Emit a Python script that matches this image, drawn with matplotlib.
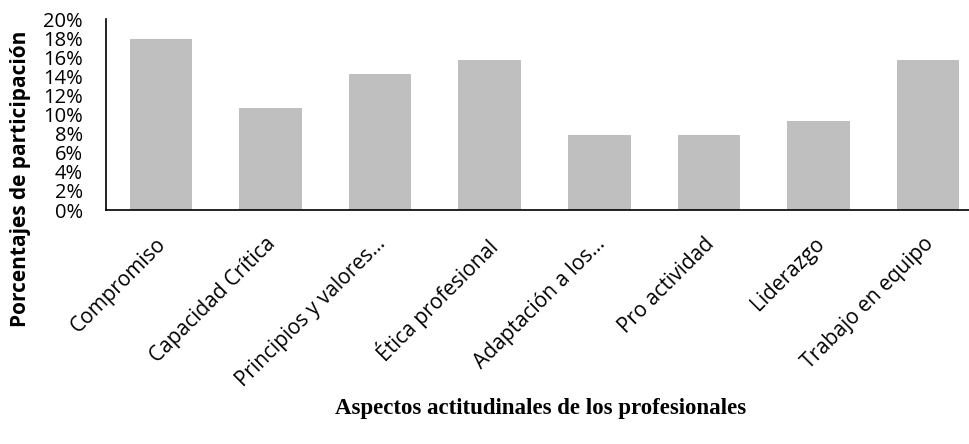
import numpy as np
import matplotlib
matplotlib.use('Agg')
import matplotlib.pyplot as plt
import matplotlib.transforms as mtransforms
from matplotlib.ticker import PercentFormatter

# datos del grafico
categorias = ['Compromiso', 'Capacidad Crítica', 'Principios y valores...',
              'Ética profesional', 'Adaptación a los...', 'Pro actividad',
              'Liderazgo', 'Trabajo en equipo']
porcentajes = [17.9, 10.7, 14.3, 15.7, 7.9, 7.9, 9.3, 15.7]

plt.rcParams['font.family'] = ['Open Sans', 'DejaVu Sans']

fig = plt.figure(figsize=(9.69, 4.44), dpi=100)
ax = fig.add_axes([0.1094, 0.527, 0.905, 0.430])

x = np.arange(len(categorias))
ax.bar(x, porcentajes, width=0.57, color='#bfbfbf')

ax.set_xlim(-0.5, len(categorias) - 0.5)
ax.set_ylim(0, 20)
ax.set_yticks(np.arange(0, 21, 2))
ax.yaxis.set_major_formatter(PercentFormatter(decimals=0))
ax.tick_params(axis='y', length=0, labelsize=14.5, pad=16.5)
ax.tick_params(axis='x', length=0, labelsize=15, pad=17)
ax.set_xticks(x)
ax.set_xticklabels(categorias, rotation=45, ha='right', va='top',
                   rotation_mode='anchor')
# corrimiento leve a la izquierda de las etiquetas
desplaz = mtransforms.ScaledTranslation(-5 / 100, 0, fig.dpi_scale_trans)
for lab in ax.get_xticklabels():
    lab.set_transform(lab.get_transform() + desplaz)

for s in ['top', 'right']:
    ax.spines[s].set_visible(False)
ax.spines['left'].set_linewidth(1.2)
ax.spines['bottom'].set_linewidth(1.2)

fig.text(0.021, 0.597, 'Porcentajes de participación', rotation=90,
         ha='center', va='center', fontsize=15, fontweight='bold')
fig.text(0.558, 0.081, 'Aspectos actitudinales de los profesionales',
         ha='center', va='center', fontsize=16.5, fontweight='bold',
         family='Liberation Serif')

fig.savefig('out.png', dpi=100)
